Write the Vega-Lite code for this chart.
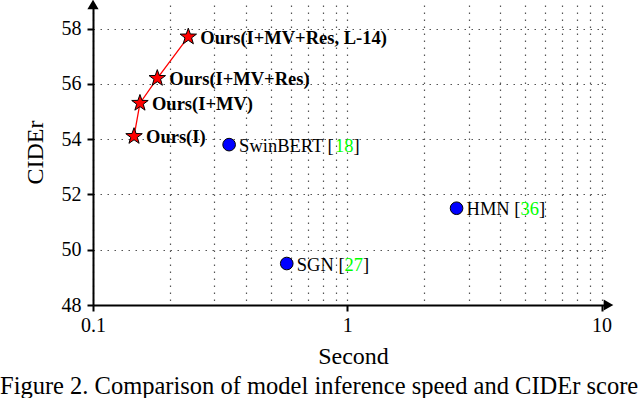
{
  "$schema": "https://vega.github.io/schema/vega-lite/v6.json",
  "width": 515,
  "height": 300,
  "autosize": "none",
  "padding": {"left": 93, "top": 5, "right": 32, "bottom": 93},
  "background": "white",
  "view": {"stroke": null},
  "config": {"font": "Liberation Serif"},
  "title": {
    "text": "Figure 2. Comparison of model inference speed and CIDEr score",
    "orient": "bottom",
    "anchor": "start",
    "frame": "group",
    "dx": -93,
    "offset": 26,
    "font": "Liberation Serif",
    "fontSize": 24.5,
    "fontWeight": "normal",
    "color": "black",
    "baseline": "alphabetic"
  },
  "datasets": {
    "ours": [
      {"model": "Ours(I)", "sec": 0.145, "cider": 54.1},
      {"model": "Ours(I+MV)", "sec": 0.153, "cider": 55.3},
      {"model": "Ours(I+MV+Res)", "sec": 0.179, "cider": 56.2},
      {"model": "Ours(I+MV+Res, L-14)", "sec": 0.237, "cider": 57.7}
    ],
    "base": [
      {"model": "SwinBERT", "pre": "SwinBERT [", "ref": "18", "sec": 0.343, "cider": 53.8},
      {"model": "SGN", "pre": "SGN [", "ref": "27", "sec": 0.578, "cider": 49.5},
      {"model": "HMN", "pre": "HMN [", "ref": "36", "sec": 2.69, "cider": 51.5}
    ],
    "arrowx": [{"sec": 10.6, "cider": 48}],
    "arrowy": [{"sec": 0.1, "cider": 58.85}]
  },
  "encoding": {
    "x": {
      "field": "sec",
      "type": "quantitative",
      "scale": {"type": "log", "domain": [0.1, 10.6]},
      "axis": {
        "title": "Second",
        "values": [0.1, 0.2, 0.3, 0.4, 0.5, 0.6, 0.7, 0.8, 0.9, 1, 2, 3, 4, 5, 6, 7, 8, 9, 10],
        "labelExpr": "datum.value == 0.1 || datum.value == 1 || datum.value == 10 ? datum.label : ''",
        "format": "~g",
        "grid": true,
        "gridDash": [1.5, 5.5],
        "gridColor": "#555555",
        "gridWidth": 1.2,
        "domainColor": "black",
        "domainWidth": 2,
        "tickColor": {"condition": {"test": "datum.value == 0.1 || datum.value == 1 || datum.value == 10", "value": "black"}, "value": "transparent"},
        "tickWidth": 2,
        "tickSize": 6,
        "labelFont": "Liberation Serif",
        "labelFontSize": 20,
        "labelColor": "black",
        "labelPadding": 4,
        "labelFlush": false,
        "labelOverlap": false,
        "titleFont": "Liberation Serif",
        "titleFontSize": 24,
        "titleFontWeight": "normal",
        "titleColor": "black",
        "titleX": 260,
        "titleY": 58,
        "titleBaseline": "alphabetic",
        "titleAlign": "center"
      }
    },
    "y": {
      "field": "cider",
      "type": "quantitative",
      "scale": {"domain": [48, 58.85]},
      "axis": {
        "title": "CIDEr",
        "values": [48, 50, 52, 54, 56, 58],
        "grid": true,
        "gridDash": [1.5, 5.5],
        "gridColor": "#555555",
        "gridWidth": 1.2,
        "domainColor": "black",
        "domainWidth": 2,
        "tickColor": "black",
        "tickWidth": 2,
        "tickSize": 6,
        "labelFont": "Liberation Serif",
        "labelFontSize": 20,
        "labelColor": "black",
        "labelPadding": 6,
        "labelFlush": false,
        "labelOverlap": false,
        "titleFont": "Liberation Serif",
        "titleFontSize": 24,
        "titleFontWeight": "normal",
        "titleColor": "black",
        "titleAngle": 270,
        "titleX": -51,
        "titleY": 147,
        "titleBaseline": "alphabetic",
        "titleAlign": "center"
      }
    }
  },
  "layer": [
    {
      "data": {"name": "ours"},
      "mark": {"type": "line", "color": "red", "strokeWidth": 1.3},
      "encoding": {"order": {"field": "sec", "type": "quantitative"}}
    },
    {
      "data": {"name": "ours"},
      "mark": {"type": "point", "shape": "M0,-1L0.235,-0.324L0.951,-0.309L0.38,0.124L0.588,0.809L0,0.4L-0.588,0.809L-0.38,0.124L-0.951,-0.309L-0.235,-0.324Z", "filled": true, "fill": "red", "stroke": "black", "strokeWidth": 1, "size": 300, "opacity": 1},
      "encoding": {}
    },
    {
      "data": {"name": "ours"},
      "mark": {"type": "text", "align": "left", "baseline": "middle", "dx": 12, "dy": 1, "font": "Liberation Serif", "fontSize": 18.5, "fontWeight": "bold", "color": "black"},
      "encoding": {"text": {"field": "model"}}
    },
    {
      "data": {"name": "base"},
      "mark": {"type": "point", "shape": "circle", "filled": true, "fill": "blue", "stroke": "black", "strokeWidth": 1, "size": 160, "opacity": 1},
      "encoding": {}
    },
    {
      "data": {"name": "base"},
      "mark": {"type": "text", "align": "left", "baseline": "middle", "dx": 10, "dy": 1, "font": "Liberation Serif", "fontSize": 18.5, "color": "black"},
      "encoding": {"text": {"field": "pre"}}
    },
    {
      "data": {"name": "base"},
      "transform": [{"filter": "datum.model == 'SwinBERT'"}],
      "mark": {"type": "text", "align": "left", "baseline": "middle", "dx": 106, "dy": 1, "font": "Liberation Serif", "fontSize": 18.5, "color": "#00ff00"},
      "encoding": {"text": {"field": "ref"}}
    },
    {
      "data": {"name": "base"},
      "transform": [{"filter": "datum.model == 'SwinBERT'"}],
      "mark": {"type": "text", "align": "left", "baseline": "middle", "dx": 124.5, "dy": 1, "font": "Liberation Serif", "fontSize": 18.5, "color": "black", "text": "]"},
      "encoding": {}
    },
    {
      "data": {"name": "base"},
      "transform": [{"filter": "datum.model == 'SGN'"}],
      "mark": {"type": "text", "align": "left", "baseline": "middle", "dx": 57.8, "dy": 1, "font": "Liberation Serif", "fontSize": 18.5, "color": "#00ff00"},
      "encoding": {"text": {"field": "ref"}}
    },
    {
      "data": {"name": "base"},
      "transform": [{"filter": "datum.model == 'SGN'"}],
      "mark": {"type": "text", "align": "left", "baseline": "middle", "dx": 76.3, "dy": 1, "font": "Liberation Serif", "fontSize": 18.5, "color": "black", "text": "]"},
      "encoding": {}
    },
    {
      "data": {"name": "base"},
      "transform": [{"filter": "datum.model == 'HMN'"}],
      "mark": {"type": "text", "align": "left", "baseline": "middle", "dx": 63.9, "dy": 1, "font": "Liberation Serif", "fontSize": 18.5, "color": "#00ff00"},
      "encoding": {"text": {"field": "ref"}}
    },
    {
      "data": {"name": "base"},
      "transform": [{"filter": "datum.model == 'HMN'"}],
      "mark": {"type": "text", "align": "left", "baseline": "middle", "dx": 82.4, "dy": 1, "font": "Liberation Serif", "fontSize": 18.5, "color": "black", "text": "]"},
      "encoding": {}
    },
    {
      "data": {"name": "arrowx"},
      "mark": {"type": "point", "shape": "triangle-right", "filled": true, "fill": "black", "stroke": "black", "size": 60, "opacity": 1, "clip": false},
      "encoding": {}
    },
    {
      "data": {"name": "arrowy"},
      "mark": {"type": "point", "shape": "triangle-up", "filled": true, "fill": "black", "stroke": "black", "size": 60, "opacity": 1, "clip": false},
      "encoding": {}
    }
  ]
}
